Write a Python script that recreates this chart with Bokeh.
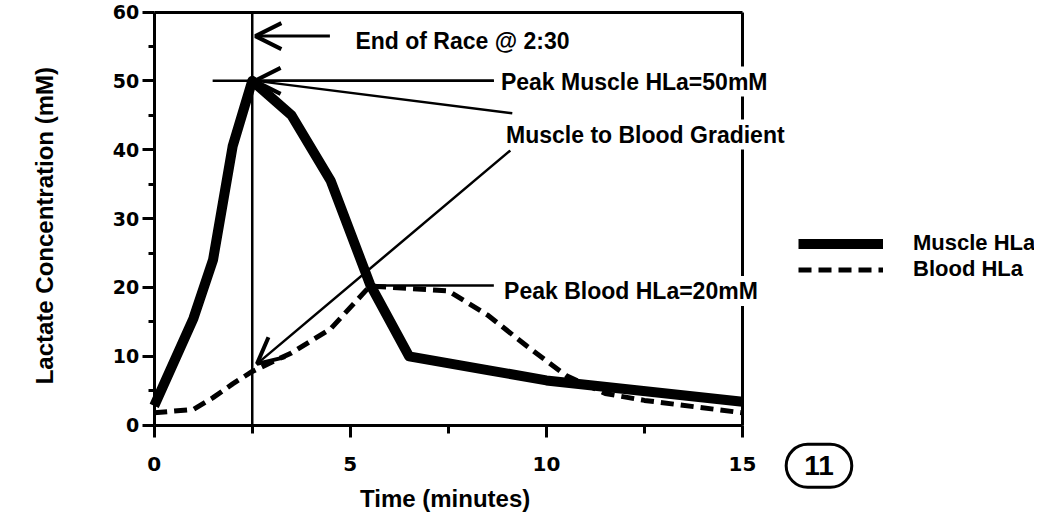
from bokeh.plotting import figure
from bokeh.models import (Range1d, FixedTicker, Label, Arrow, OpenHead,
                          Legend, LegendItem, LinearAxis)
from bokeh.embed import file_html
from bokeh.resources import INLINE

# ---- data ----
muscle_time = [0, 1, 1.5, 2, 2.5, 3.5, 4.5, 5.5, 6.5, 8.5, 10, 15]
muscle_hla = [2.8, 15.5, 24, 40.5, 50, 45, 35.5, 20.5, 10, 8, 6.5, 3.4]

blood_time = [0, 1, 1.5, 2, 2.5, 3.5, 4.5, 5.5, 7.5, 8.5, 9.5, 10.5, 11.5, 12.5, 15]
blood_hla = [1.8, 2.3, 4.0, 6.0, 7.8, 10.5, 14, 20.2, 19.5, 16, 11.5, 7.2, 4.6, 3.6, 1.8]

x_ticks = [0, 5, 10, 15]
x_minor = [2.5, 7.5, 12.5]
y_ticks = [0, 10, 20, 30, 40, 50, 60]
y_minor = [5, 15, 25, 35, 45, 55]

X_MIN, X_MAX = 0, 15
Y_MIN, Y_MAX = 0, 60
race_end = 2.5
peak_muscle = 50

# annotation segments (x0, y0, x1, y1): race line, peak-muscle line, gradient line, peak-blood line
seg_x0 = [race_end, 1.49, 2.6, 5.49]
seg_y0 = [0, 50, 50, 20.3]
seg_x1 = [race_end, 8.66, 9.13, 8.66]
seg_y1 = [60, 50, 45.3, 20.3]

FONT = "Liberation Sans"
TICK_FONT = "DejaVu Sans"

# canvas 1034x512; plot box (0..15, 0..60) placed at canvas px
W, H = 1034, 512
px_left, px_right, px_top, px_bottom = 153.7, 742.0, 11.5, 424.7
sx = (px_right - px_left) / (X_MAX - X_MIN)
sy = (px_bottom - px_top) / (Y_MAX - Y_MIN)
x_range = Range1d(X_MIN - px_left / sx, X_MIN + (W - px_left) / sx)
y_range = Range1d(Y_MIN - (H - px_bottom) / sy, Y_MIN + px_bottom / sy)

p = figure(width=W, height=H, x_range=x_range, y_range=y_range,
           output_backend="svg", toolbar_location=None, min_border=0,
           x_axis_type=None, y_axis_type=None)
p.grid.visible = False
p.outline_line_color = None
p.background_fill_color = "white"

xaxis = LinearAxis(fixed_location=Y_MIN, bounds=(X_MIN, X_MAX),
                   ticker=FixedTicker(ticks=x_ticks, minor_ticks=x_minor),
                   axis_label="Time  (minutes)")
yaxis = LinearAxis(fixed_location=X_MIN, bounds=(Y_MIN, Y_MAX),
                   ticker=FixedTicker(ticks=y_ticks, minor_ticks=y_minor),
                   axis_label="Lactate  Concentration  (mM)")
for ax in (xaxis, yaxis):
    ax.axis_line_width = 3
    ax.axis_line_color = "black"
    ax.major_tick_line_width = 3
    ax.minor_tick_line_width = 3
    ax.major_tick_in = 0
    ax.minor_tick_in = 0
    ax.major_tick_out = 12
    ax.major_label_text_font = TICK_FONT
    ax.major_label_text_font_style = "bold"
    ax.major_label_text_font_size = "20px"
    ax.major_label_text_color = "black"
    ax.axis_label_text_font = FONT
    ax.axis_label_text_font_style = "bold"
    ax.axis_label_text_font_size = "24px"
    ax.axis_label_text_color = "black"
yaxis.major_label_text_font_size = "19px"
xaxis.minor_tick_out = 8
yaxis.minor_tick_out = 6
xaxis.major_label_standoff = 20
yaxis.major_label_standoff = 3
xaxis.axis_label_standoff = 10
yaxis.axis_label_standoff = 52
p.add_layout(xaxis, "below")
p.add_layout(yaxis, "left")

# top and right border of the plot box
top = LinearAxis(fixed_location=Y_MAX, bounds=(X_MIN, X_MAX), ticker=FixedTicker(ticks=[]),
                 axis_line_width=3, major_tick_out=0, minor_tick_out=0)
right = LinearAxis(fixed_location=X_MAX, bounds=(Y_MIN, Y_MAX), ticker=FixedTicker(ticks=[]),
                   axis_line_width=3, major_tick_out=0, minor_tick_out=0)
p.add_layout(top, "above")
p.add_layout(right, "right")

# annotation lines
p.segment(x0=seg_x0, y0=seg_y0, x1=seg_x1, y1=seg_y1, line_width=2.5, line_color="black")

# data lines
rm = p.line(muscle_time, muscle_hla, line_width=10, line_color="black", line_join="round")
rb = p.line(blood_time, blood_hla, line_width=5, line_color="black", line_dash="13 7")

# arrows
head = dict(size=26, line_width=4, line_color="black")
p.add_layout(Arrow(end=OpenHead(**head), x_start=4.48, y_start=56.5, x_end=2.58, y_end=56.5,
                   line_width=3, line_color="black"))
p.add_layout(Arrow(end=OpenHead(**head), x_start=8.66, y_start=peak_muscle, x_end=2.56,
                   y_end=peak_muscle, line_width=2.5, line_color="black"))
p.add_layout(Arrow(end=OpenHead(**head), x_start=9.08, y_start=39.9, x_end=2.62, y_end=8.9,
                   line_width=2.5, line_color="black"))

lab = dict(text_font=FONT, text_font_style="bold", text_font_size="23px",
           text_color="black", text_align="left", text_baseline="middle", level="overlay")
p.add_layout(Label(x=5.13, y=55.8, text="End of Race @ 2:30", **lab))
bg = dict(background_fill_color="white", padding=2)
p.add_layout(Label(x=8.79, y=49.9, text="Peak Muscle HLa=50mM", **lab, **bg))
p.add_layout(Label(x=8.92, y=42.2, text="Muscle to Blood Gradient", **lab, **bg))
p.add_layout(Label(x=8.87, y=19.5, text="Peak Blood HLa=20mM", **lab, **bg))

p.add_layout(Label(x=16.95, y=-5.9, text="11", text_font=FONT, text_font_style="bold",
                   text_font_size="28px", text_color="black", text_align="center",
                   text_baseline="middle", border_line_color="black", border_line_width=3,
                   border_radius=22, padding=dict(x=18, y=12), level="overlay"))

legend = Legend(items=[LegendItem(label="Muscle HLa", renderers=[rm]),
                       LegendItem(label="Blood HLa", renderers=[rb])],
                location=(798, 230), glyph_width=85, glyph_height=19, label_height=19,
                label_standoff=30, padding=0, spacing=-8, margin=0,
                border_line_color=None, background_fill_alpha=0,
                label_text_font=FONT, label_text_font_style="bold",
                label_text_font_size="22px", label_text_color="black")
p.add_layout(legend)

open("out.html", "w").write(file_html(p, INLINE))
